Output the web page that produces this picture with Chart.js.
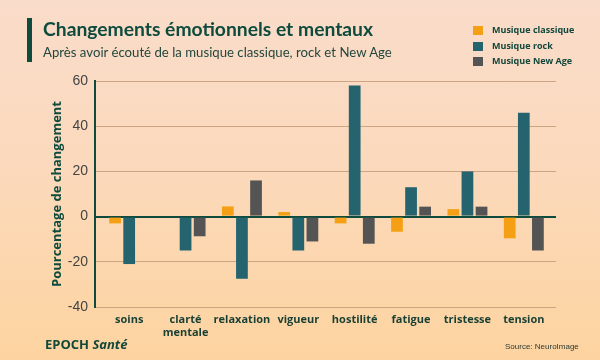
<!DOCTYPE html>
<html><head><meta charset="utf-8">
<script src="https://cdn.jsdelivr.net/npm/chart.js@4"></script>
<style>
html,body{margin:0;padding:0}
body{width:600px;height:360px;overflow:hidden;position:relative;
  background:linear-gradient(to bottom,#f9dcca 0%,#fbd9bc 45%,#fdd4a0 100%);}
#c{position:absolute;left:0;top:0}
.t{position:absolute;white-space:nowrap;color:#0e4b3c}
#bar{position:absolute;left:27px;top:18px;width:5px;height:44px;background:#0e4b3c}
#title{left:43px;top:19px;font:bold 19.3px/20px Lato,sans-serif}
#sub{left:43px;top:45px;font:13.2px/14px Lato,sans-serif;color:#22463d}
#legend{position:absolute;left:473px;top:25px}
.li{position:relative;height:15.5px;font:bold 9px/10px "Open Sans",sans-serif;color:#12473a;white-space:nowrap}
.sw{position:absolute;left:0;top:1px;width:10px;height:9px}
.li span{position:absolute;left:19px;top:0}
#epoch{left:45px;top:337px;font:bold 13px/14px "Open Sans",sans-serif;color:#12473a}
#src{left:505px;top:342px;font:8px/9px "Liberation Sans",sans-serif;color:#2a3a33}
</style></head>
<body>
<canvas id="c" width="600" height="360"></canvas>
<div id="bar"></div>
<div class="t" id="title">Changements émotionnels et mentaux</div>
<div class="t" id="sub">Après avoir écouté de la musique classique, rock et New Age</div>
<div id="legend"></div>
<div class="t" id="epoch">EPOCH <i>Santé</i></div>
<div class="t" id="src">Source: NeuroImage</div>
<script>
const categories = ["soins", ["clarté", "mentale"], "relaxation", "vigueur", "hostilité", "fatigue", "tristesse", "tension"];
const seriesNames = ["Musique classique", "Musique rock", "Musique New Age"];
const classique = [-3, null, 4.5, 2, -3, -6.7, 3.3, -9.6];
const rock = [-21, -15, -27.5, -15, 58, 13, 20, 46];
const newAge = [null, -8.7, 16, -11, -12, 4.4, 4.4, -15];
const yTicks = [-40, -20, 0, 20, 40, 60];

const colors = ["#f5a014", "#25636f", "#545454"];
const green = "#0e4b3c";

// HTML legend from the series
const lg = document.getElementById('legend');
seriesNames.forEach((n, i) => {
  const d = document.createElement('div'); d.className = 'li';
  d.innerHTML = '<div class="sw" style="background:' + colors[i] + '"></div><span>' + n + '</span>';
  lg.appendChild(d);
});

const shiftX = {
  id: 'shiftX',
  afterLayout(chart) {
    const x = chart.scales.x;
    x.left += 6; x.right -= 4; x.width = x.right - x.left;
    x.configure();
  }
};

new Chart(document.getElementById('c'), {
  type: 'bar',
  data: {
    labels: categories,
    datasets: [
      { label: seriesNames[0], data: classique, backgroundColor: colors[0] },
      { label: seriesNames[1], data: rock, backgroundColor: colors[1] },
      { label: seriesNames[2], data: newAge, backgroundColor: colors[2] }
    ]
  },
  options: {
    responsive: false,
    animation: false,
    devicePixelRatio: 1,
    categoryPercentage: 0.75,
    barPercentage: 0.833,
    layout: { padding: { left: 45, right: 44, top: 81, bottom: 0 } },
    plugins: { legend: { display: false }, tooltip: { enabled: false }, title: { display: false } },
    scales: {
      x: {
        grid: { display: false, drawTicks: false },
        border: { display: false },
        ticks: { padding: 7, color: '#173f33', font: { family: 'Open Sans', weight: 'bold', size: 11, lineHeight: 1.15 }, maxRotation: 0, autoSkip: false },
        afterFit(s) { s.height = 53; }
      },
      y: {
        min: -40, max: 60,
        afterBuildTicks(s) { s.ticks = yTicks.map(v => ({ value: v })); },
        grid: {
          drawTicks: false,
          color: ctx => ctx.tick && ctx.tick.value === 0 ? green : '#cca584',
          lineWidth: ctx => ctx.tick && ctx.tick.value === 0 ? 2 : 1
        },
        border: { display: true, color: green, width: 2 },
        ticks: { padding: 7, color: '#444', font: { family: 'Liberation Sans', size: 14 } },
        title: { display: true, text: 'Pourcentage de changement', color: green, font: { family: 'Open Sans', weight: 'bold', size: 13 }, padding: { top: 4, bottom: 4 } },
        afterFit(s) { s.width = 50; }
      }
    }
  },
  plugins: [shiftX]
});
</script>
</body></html>
